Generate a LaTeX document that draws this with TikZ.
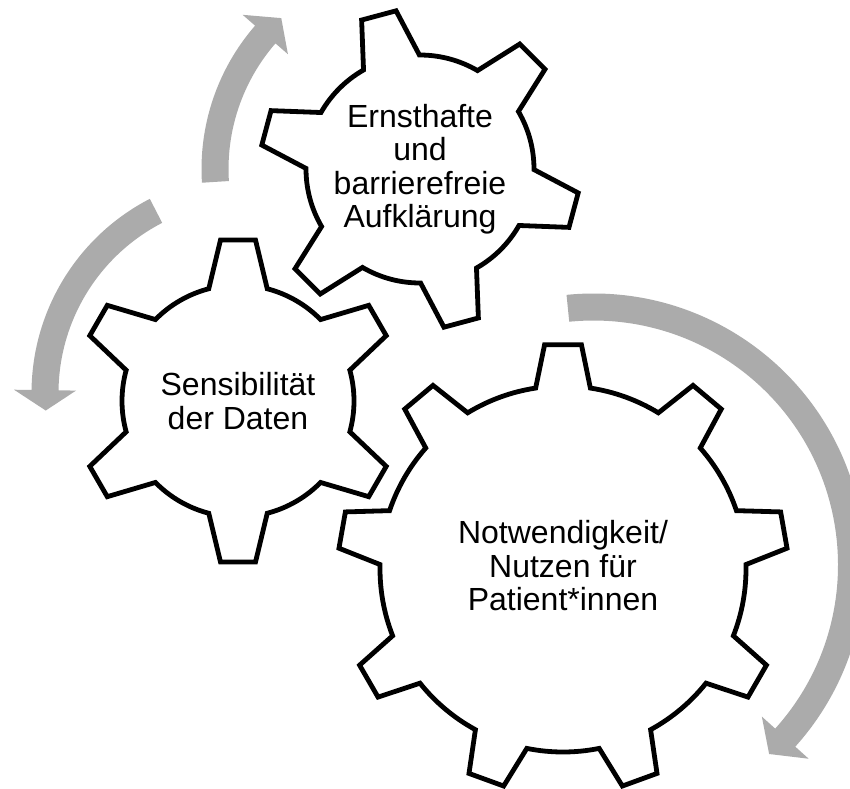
\documentclass[tikz,border=0pt]{standalone}
\usepackage{fontspec}
\setmainfont{Liberation Sans}
\definecolor{arrowgray}{RGB}{171,171,171}
\begin{document}
\begin{tikzpicture}[x=1pt,y=1pt,
  gearline/.style={draw=black,line width=4.8pt,line join=miter,fill=white},
  arrowband/.style={fill=arrowgray},
  gtext/.style={align=center,font=\fontsize{32}{33.5}\selectfont,inner sep=0pt}]
\useasboundingbox (0,-788) rectangle (850,0);
\fill[white] (0,-788) rectangle (850,0);
\clip (0,-788) rectangle (850,0);

% arrow around top gear (up)
\fill[arrowband,shift={(420,-169)}] (183.6:218.5) arc[start angle=183.6,end angle=139,radius=218.5pt]
  -- (139:235) -- (132.6:205) -- (139:175) -- (139:191.5)
  arc[start angle=139,end angle=183.6,radius=191.5pt] -- cycle;
% arrow left (down)
\fill[arrowband,shift={(250,-393)}] (117.3:218.5) arc[start angle=117.3,end angle=179.2,radius=218.5pt]
  -- (179.2:236) -- (184.9:205) -- (179.2:174) -- (179.2:191.5)
  arc[start angle=179.2,end angle=117.3,radius=191.5pt] -- cycle;
% big arrow right
\fill[arrowband,shift={(593.5,-565)}] (95.7:271.5) arc[start angle=95.7,end angle=-42,radius=271.5pt]
  -- (-42:289.5) -- (-47.1:258) -- (-42:226.5) -- (-42:244.5)
  arc[start angle=-42,end angle=95.7,radius=244.5pt] -- cycle;

% top gear
\draw[gearline,shift={(420,-169)}] (30.3:114)
  \foreach \a in {45,105,165,225,285,345}{
    -- ({\a-6.4}:160) -- ({\a+6.4}:160) -- ({\a+14.7}:114)
    arc[start angle={\a+14.7},end angle={\a+45.3},radius=114pt] } -- cycle;
% left gear
\draw[gearline,shift={(238,-401)}] (15.4:116)
  \foreach \a in {30,90,150,210,270,330}{
    -- ({\a-6.2}:162) -- ({\a+6.2}:162) -- ({\a+14.6}:116)
    arc[start angle={\a+14.6},end angle={\a+45.4},radius=116pt] } -- cycle;
% big gear
\draw[gearline,shift={(563,-569)}] (1.4:183)
  \foreach \a in {10,50,90,130,170,210,250,290,330}{
    -- ({\a-4.7}:225) -- ({\a+4.7}:225) -- ({\a+8.6}:183)
    arc[start angle={\a+8.6},end angle={\a+31.4},radius=183pt] } -- cycle;

\node[gtext] (ta) at (420,-169) {Ernsthafte\\und\\barrierefreie\\Aufklärung};
\node[gtext] (tb) at (238,-401) {Sensibilität\\der Daten};
\node[gtext] (tc) at (563,-566) {Notwendigkeit/\\Nutzen für\\Patient*innen};
\end{tikzpicture}
\end{document}
